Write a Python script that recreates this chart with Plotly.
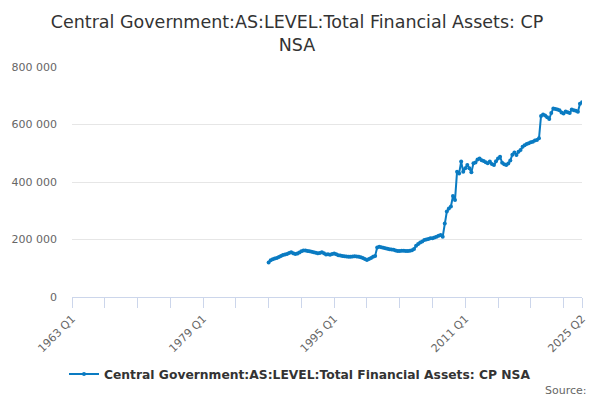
import plotly.graph_objects as go

# Axis categories: every quarter from 1963 Q1 to 2025 Q2
first_year = 1963
last_year = 2025
last_quarter = 2
quarters = [f"{y} Q{q}" for y in range(first_year, last_year + 1) for q in range(1, 5)
            if not (y == last_year and q > last_quarter)]

tick_labels = ["1963 Q1", "1979 Q1", "1995 Q1", "2011 Q1", "2025 Q2"]

series_name = "Central Government:AS:LEVEL:Total Financial Assets: CP NSA"
series_start = "1987 Q1"

values_1987_1996 = [
    120000, 128000, 131000, 134000,
    136000, 139000, 143000, 146000,
    148000, 150000, 153000, 156000,
    152000, 150000, 151000, 155000,
    159000, 162000, 162000, 160000,
    159000, 157000, 156000, 154000,
    152000, 153000, 156000, 152000,
    148000, 149000, 147000, 150000,
    151000, 149000, 145000, 144000,
    143000, 142000, 141000, 140000,
]
values_1997_2006 = [
    140000, 141000, 142000, 141000,
    140000, 138000, 136000, 132000,
    129000, 132000, 136000, 140000,
    143000, 172000, 175000, 173000,
    171000, 170000, 168000, 166000,
    165000, 164000, 162000, 160000,
    160000, 161000, 161000, 160000,
    160000, 161000, 163000, 167000,
    178000, 184000, 190000, 193000,
    198000, 200000, 202000, 204000,
]
values_2007_2016 = [
    204000, 207000, 210000, 213000,
    216000, 210000, 256000, 297000,
    308000, 315000, 351000, 337000,
    436000, 430000, 471000, 436000,
    448000, 459000, 448000, 434000,
    465000, 468000, 478000, 482000,
    476000, 473000, 469000, 465000,
    471000, 463000, 459000, 472000,
    482000, 488000, 467000, 462000,
    459000, 464000, 475000, 495000,
]
values_2017_2025 = [
    503000, 494000, 505000, 511000,
    523000, 528000, 532000, 535000,
    538000, 540000, 544000, 546000,
    552000, 630000, 635000, 631000,
    625000, 619000, 640000, 656000,
    654000, 652000, 650000, 642000,
    638000, 645000, 643000, 640000,
    652000, 650000, 648000, 644000,
    672000, 677000,
]
values = values_1987_1996 + values_1997_2006 + values_2007_2016 + values_2017_2025

start_idx = quarters.index(series_start)
x_vals = quarters[start_idx:start_idx + len(values)]

# tick marks every 16 quarters, plus the final quarter
tick_positions = quarters[::16] + [quarters[-1]]
tick_text = [q if q in tick_labels else "" for q in tick_positions]

font_family = "DejaVu Sans, Verdana, sans-serif"
line_color = "#0a7bc2"

# the page adds an 8px body margin; lay the figure out 8px up/left to compensate
off = 8
W, H = 600, 400

fig = go.Figure()
fig.add_trace(go.Scatter(
    x=x_vals, y=values, name=series_name, mode="lines+markers",
    line=dict(color=line_color, width=2),
    marker=dict(color=line_color, size=4, symbol="circle"),
))

fig.update_layout(
    width=W, height=H,
    paper_bgcolor="white", plot_bgcolor="white",
    separators=". ",
    margin=dict(l=72 - off, r=W - (582 - off), t=67 - off, b=H - (297 - off), autoexpand=False),
    font=dict(family=font_family, color="#666666", size=11),
    title=dict(
        text="Central Government:AS:LEVEL:Total Financial Assets: CP<br>NSA",
        x=(297 - off) / W, xanchor="center", xref="container",
        y=1 - (28 - off) / H, yanchor="middle", yref="container",
        font=dict(family=font_family, size=17.5, color="#333333"),
    ),
    showlegend=True,
    legend=dict(
        orientation="h", xref="container", x=(300 - off) / W, xanchor="center",
        yref="container", y=1 - (374 - off) / H, yanchor="middle",
        font=dict(family=font_family, size=12.3, color="#333333", weight="bold"),
        itemwidth=30,
    ),
    xaxis=dict(
        type="category", categoryorder="array", categoryarray=quarters,
        range=[0, len(quarters) - 1], automargin=False,
        tickmode="array", tickvals=tick_positions, ticktext=tick_text,
        tickangle=-45, ticks="outside", ticklen=10, tickcolor="#ccd6eb",
        showline=True, linecolor="#ccd6eb", linewidth=1,
        showgrid=False, zeroline=False,
        tickfont=dict(size=11, color="#666666"),
    ),
    yaxis=dict(
        range=[0, 800000], tickvals=[0, 200000, 400000, 600000, 800000],
        tickformat=",d", showgrid=True, gridcolor="#e6e6e6", gridwidth=1,
        zeroline=False, showline=False, ticks="", automargin=False,
        ticklabelstandoff=14,
        tickfont=dict(size=11, color="#666666"),
    ),
    annotations=[dict(
        text="Source:", xref="paper", yref="paper", x=(589 - 72) / 510,
        y=-(390 - 297) / 230, xanchor="right", yanchor="middle", showarrow=False,
        font=dict(family=font_family, size=11, color="#666666"),
    )],
)

fig.write_html("out.html")
